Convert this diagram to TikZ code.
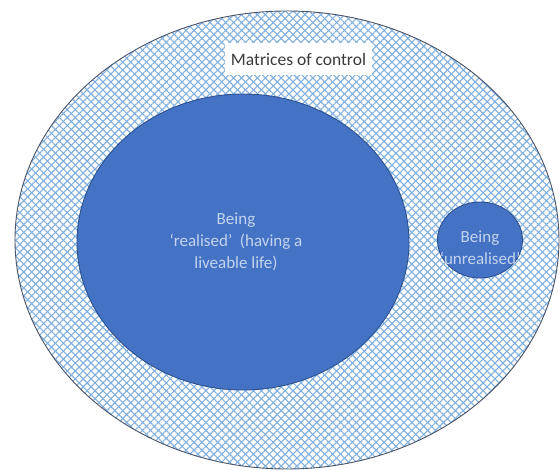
\documentclass[tikz,border=0pt]{standalone}
\usepackage{fontspec}
\setmainfont{Carlito}
\usepackage{xcolor}
\usepackage{tikz}
\usetikzlibrary{shapes.geometric,patterns.meta,positioning}
\definecolor{bg}{HTML}{FFFFFF}
\definecolor{hatch}{HTML}{7FB0E0}
\definecolor{rim}{HTML}{4A5468}
\definecolor{fillblue}{HTML}{4472C4}
\definecolor{edgeblue}{HTML}{2F528F}
\definecolor{pale}{HTML}{C3D4EF}
\definecolor{ink}{HTML}{3A3A3A}
\tikzset{
  grid/.style={preaction={pattern={Lines[angle=45,distance=5.6pt,line width=1.1pt]}, pattern color=hatch},
    pattern={Lines[angle=-45,distance=5.6pt,line width=1.1pt]}, pattern color=hatch},
  realm/.style={ellipse, draw=rim, line width=0.9pt, inner sep=0pt, outer sep=0pt, grid},
  disc/.style={ellipse, draw=edgeblue, line width=0.9pt, fill=fillblue, inner sep=0pt, outer sep=0pt},
  tag/.style={fill=bg, text=ink, font=\fontsize{17.5}{21}\selectfont, inner sep=0pt},
  lab/.style={text=pale, font=\fontsize{17}{22}\selectfont, align=center, inner sep=0pt},
}
\begin{document}
\begin{tikzpicture}[x=1pt, y=-1pt]
\useasboundingbox[fill=bg] (0,0) rectangle (560,470);
% outer realm
\node[realm, minimum width=544pt, minimum height=458pt] (control) at (287,240) {};
\node[tag, minimum width=147pt, minimum height=32pt] (title) at (298.5,59) {Matrices of control};

% the two states
\node[disc, minimum width=332pt, minimum height=296pt] (realised) at (243,242) {};
\node[disc, minimum width=85pt, minimum height=76pt] (unrealised) at (480,240) {};

\node[lab] (realisedtext) at ([xshift=-7pt]realised.center) {Being\\‘realised’\ \ (having a\\liveable life)};
\node[lab] (unrealisedtext) at ([yshift=-8pt]unrealised.center) {Being\\‘unrealised’};
\end{tikzpicture}
\end{document}
